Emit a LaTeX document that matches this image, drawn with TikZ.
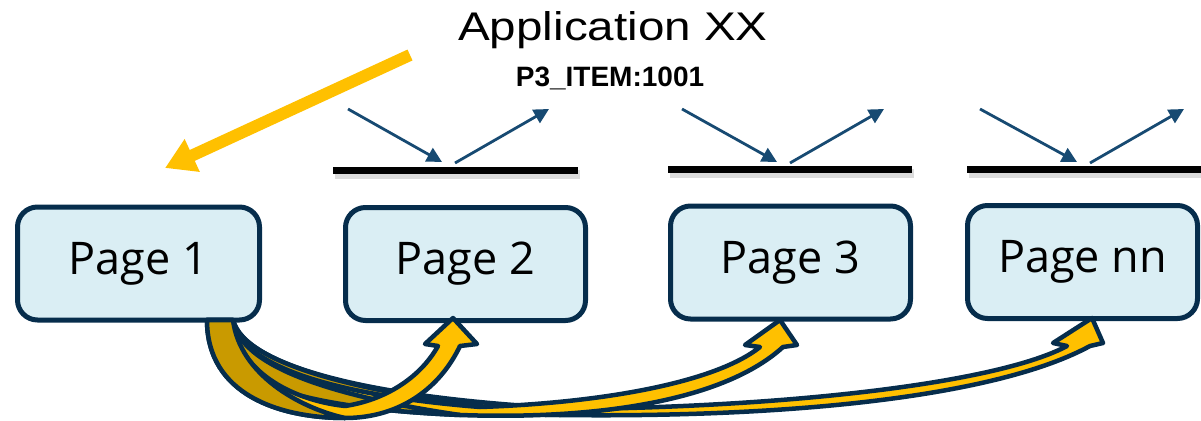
\documentclass[tikz,border=0pt]{standalone}
\usepackage{fontspec}
\setmainfont{Open Sans}
\newfontfamily\arialfont{Liberation Sans}
\usetikzlibrary{arrows.meta,calc}
\definecolor{navy}{HTML}{062D4C}
\definecolor{boxfill}{HTML}{DAEEF4}
\definecolor{gold}{HTML}{FFC000}
\definecolor{darkgold}{HTML}{C99A00}
\definecolor{rayblue}{HTML}{174A72}
\tikzset{
  pagebox/.style={draw=navy, line width=5pt, fill=boxfill, rounded corners=20pt,
    minimum height=113pt, inner sep=0pt, font=\fontsize{45}{50}\selectfont},
  mirror/.style={line width=7pt, black},
  mirrorshadow/.style={line width=9pt, black!45, opacity=0.3},
  ray/.style={rayblue, line width=2.8pt, -{Triangle[length=15pt,width=15pt]}},
  bentarrow/.style={fill=gold, draw=navy, line width=4.5pt, line join=round},
  bentback/.style={fill=darkgold, draw=navy, line width=4.5pt, line join=round},
  pointer/.style={gold, line width=12pt, -{Triangle[length=30pt,width=34pt]}}
}
\begin{document}
\begin{tikzpicture}[x=1pt,y=-1pt]
\useasboundingbox (0,0) rectangle (1201,420);

% title
\node[font=\arialfont\fontsize{40}{44}\selectfont, anchor=base] (title) at (613,41)
  {\scalebox{1.19}[1]{Application XX}};
\node[font=\arialfont\bfseries\fontsize{28}{30}\selectfont, anchor=base] (item) at (610,86)
  {P3\_ITEM:1001};

% pages
\node[pagebox, minimum width=242pt] (p1) at (138.5,263.5) {Page 1};
\node[pagebox, minimum width=240pt] (p2) at (465.5,264) {Page 2};
\node[pagebox, minimum width=240pt] (p3) at (790.5,262.5) {Page 3};
\node[pagebox, minimum width=230pt] (pn) at (1082.5,262) {Page nn};

% pointer towards the first page
\coordinate (ptail) at (410,55);
\coordinate (phead) at (165,168);
\draw[pointer] (ptail) -- (phead);

% mirrors with incoming and reflected rays
\foreach \xa/\xb/\y/\ia/\ib in {333/578/170/348/442, 668/912/169/682/777, 967/1205/169/980/1077}{
  \draw[mirrorshadow] (\xa+2,\y+4) -- (\xb+2,\y+4);
  \draw[mirror] (\xa,\y) -- (\xb,\y);
  \draw[ray] (\ia,109) -- (\ib,162);
  \draw[ray] (\ib+13,163) -- (\ib+107,109);
}

% bent arrows from Page 1 to the other pages
\coordinate (tl) at (207,320);
\coordinate (tr) at (233,320);

% to Page nn
\draw[bentarrow] (tl) .. controls (215,385) and (350,412) .. (560,415)
  .. controls (800,418) and (1000,395) .. (1090,346) -- (1103,343) -- (1092,318)
  -- (1053,343) -- (1067,346) .. controls (1000,382) and (800,406) .. (580,409)
  .. controls (380,400) and (245,368) .. (tr) -- cycle;
\draw[bentback] (tl) .. controls (215,385) and (350,412) .. (560,415)
  .. controls (380,398) and (245,368) .. (tr) -- cycle;

% to Page 3
\draw[bentarrow] (tl) .. controls (212,382) and (300,408) .. (460,415)
  .. controls (600,420) and (725,400) .. (783,347) -- (797,345) -- (780,320)
  -- (745,345) -- (760,347) .. controls (715,383) and (600,403) .. (480,407)
  .. controls (330,395) and (240,365) .. (tr) -- cycle;
\draw[bentback] (tl) .. controls (212,382) and (300,408) .. (460,415)
  .. controls (330,396) and (240,366) .. (tr) -- cycle;

% to Page 2
\draw[bentarrow] (tl) .. controls (207,395) and (280,418) .. (345,418)
  .. controls (400,418) and (440,388) .. (460,346) -- (477,344) -- (453,318)
  -- (425,344) -- (438,346) .. controls (420,378) and (385,400) .. (345,406)
  .. controls (290,400) and (237,370) .. (tr) -- cycle;
\draw[bentback] (tl) .. controls (207,395) and (280,418) .. (345,418)
  .. controls (300,408) and (240,375) .. (tr) -- cycle;
\end{tikzpicture}
\end{document}
